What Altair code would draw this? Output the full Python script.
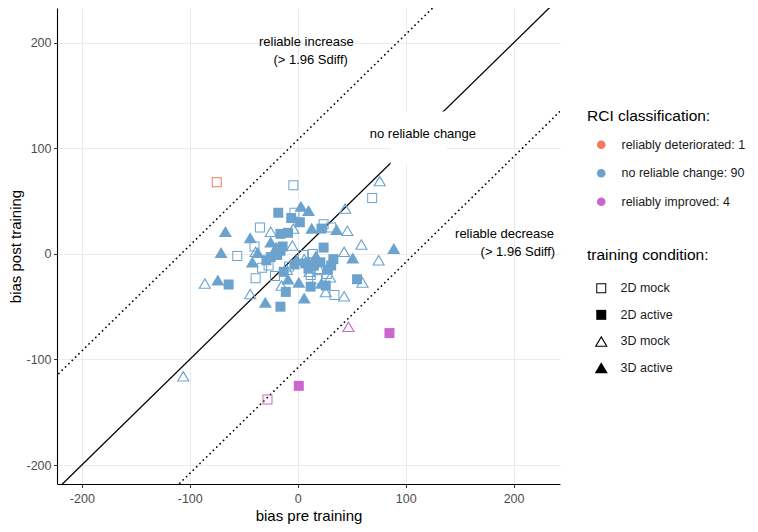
import altair as alt
import pandas as pd

FONT = "Liberation Sans"

conditions = ["2D mock", "2D active", "3D mock", "3D active"]
rci_labels = ["reliably deteriorated: 1", "no reliable change: 90", "reliably improved: 4"]
rci_colors = ["#F4795E", "#6BA3CE", "#CC66CC"]

# no reliable change points, per training condition
nrc_2d_mock_pre = [-4, -3, -35, 24, 31, -40, -56, -33, -27, 14, -39, -21, 12, 18, 27, 34, 69, 11, -8, 5]
nrc_2d_mock_post = [65, 39, 25, 28, 25, 7, -2, -13, -11, 0, -23, -21, -20, -24, -19, -39, 53, -8, -12, -1]

nrc_2d_active_pre = [-18, -6, 2, -16, -9, 22, -14, -16, -19, -25, -29, 24, 7, 15, 21, 33, 31, -13, 12, 26,
                     -11, -16, -64, 55, 10, -3, 28]
nrc_2d_active_post = [39, 34, 30, 19, 20, 24, 7, 3, -1, -3, -6, 6, -9, -11, -8, -5, -11, -17, -31, -30,
                      -36, -50, -29, -24, -14, -10, -15]

nrc_3d_mock_pre = [-25, -4, -5, -39, 6, -15, 26, -44, -86, 11, 76, 44, 46, 59, 43, 75, 60, 43, -106, 20, 30, -10]
nrc_3d_mock_post = [21, 24, 8, 2, -5, -30, -36, -38, -28, -17, 69, 43, 22, 9, 2, -6, -27, -40, -116, -14, -22, -15]

nrc_3d_active_pre = [3, 10, -67, -44, 13, 36, -25, -37, -71, -42, -1, -9, 1, -30, 6, -74, 51, 89, 17, -20, 22]
nrc_3d_active_post = [45, 41, 21, 15, 24, 23, 11, 1, 1, -8, -6, -24, -27, -46, -42, -25, -4, 5, -2, 6, -28]

# reliably deteriorated
det_pre = [-75]
det_post = [68]
det_cond = ["2D mock"]

# reliably improved
imp_pre = [47, 85, 1, -28]
imp_post = [-69, -75, -125, -138]
imp_cond = ["3D mock", "2D active", "2D active", "2D mock"]

# reference lines: identity and +/- 1.96 Sdiff
line_x = [-240, 260]
line_offsets = [108, -108]

# rectangle behind the "no reliable change" label
label_box_x = [86, 138]
label_box_y = [85, 135]

rows = []
for pre, post, cond in [
    (nrc_2d_mock_pre, nrc_2d_mock_post, "2D mock"),
    (nrc_2d_active_pre, nrc_2d_active_post, "2D active"),
    (nrc_3d_mock_pre, nrc_3d_mock_post, "3D mock"),
    (nrc_3d_active_pre, nrc_3d_active_post, "3D active"),
]:
    for a, b in zip(pre, post):
        rows.append({"pre": a, "post": b, "cond": cond, "rci": rci_labels[1]})
for a, b, c in zip(det_pre, det_post, det_cond):
    rows.append({"pre": a, "post": b, "cond": c, "rci": rci_labels[0]})
for a, b, c in zip(imp_pre, imp_post, imp_cond):
    rows.append({"pre": a, "post": b, "cond": c, "rci": rci_labels[2]})
pts = pd.DataFrame(rows)

solid_df = pd.DataFrame({"pre": line_x, "post": line_x})
dot_rows = []
for i, off in enumerate(line_offsets):
    for xv in line_x:
        dot_rows.append({"pre": xv, "post": xv + off, "id": i})
dot_df = pd.DataFrame(dot_rows)

box_df = pd.DataFrame({"x1": [label_box_x[0]], "x2": [label_box_x[1]],
                       "y1": [label_box_y[0]], "y2": [label_box_y[1]]})

text_df = pd.DataFrame({
    "pre": [8, 12, 116],
    "post": [201, 184, 114],
    "label": ["reliable increase", "(> 1.96 Sdiff)", "no reliable change"],
})
text_r_df = pd.DataFrame({
    "pre": [237.5, 238.5],
    "post": [19, 2],
    "label": ["reliable decrease", "(> 1.96 Sdiff)"],
})

sq_filled = "M-1,-1H1V1H-1Z"
sq_open = "M-1,-1H1V1H-1Z M-0.8,-0.8V0.8H0.8V-0.8Z"
tri_filled = "M0,-1.15L1.3,1.05H-1.3Z"
tri_open = "M0,-1.15L1.3,1.05H-1.3Z M0,-0.68L-0.92,0.85H0.92Z"
shape_paths = [sq_open, sq_filled, tri_open, tri_filled]

xscale = alt.Scale(domain=[-223, 243], nice=False, zero=False)
yscale = alt.Scale(domain=[-218, 233], nice=False, zero=False)
ticks = [-200, -100, 0, 100, 200]

xenc = alt.X("pre:Q", scale=xscale,
             axis=alt.Axis(values=ticks, title="bias pre training", labelExpr="'' + datum.value"))
yenc = alt.Y("post:Q", scale=yscale,
             axis=alt.Axis(values=ticks, title="bias post training", labelExpr="'' + datum.value"))

dotted = alt.Chart(dot_df).mark_line(
    clip=True, color="black", strokeWidth=1.7, strokeDash=[0.1, 4.6], strokeCap="round"
).encode(x=xenc, y=yenc, detail="id:N")

solid = alt.Chart(solid_df).mark_line(clip=True, color="black", strokeWidth=1.3).encode(x=xenc, y=yenc)

box = alt.Chart(box_df).mark_rect(color="white").encode(
    x=alt.X("x1:Q", scale=xscale), x2="x2:Q",
    y=alt.Y("y1:Q", scale=yscale), y2="y2:Q")

texts = alt.Chart(text_df).mark_text(
    font=FONT, fontSize=13, color="black", align="center", baseline="middle"
).encode(x=xenc, y=yenc, text="label:N")

texts_r = alt.Chart(text_r_df).mark_text(
    font=FONT, fontSize=13, color="black", align="right", baseline="middle"
).encode(x=xenc, y=yenc, text="label:N")

points = alt.Chart(pts).mark_point(filled=True, opacity=1, size=100, strokeWidth=0).encode(
    x=xenc, y=yenc,
    color=alt.Color("rci:N", scale=alt.Scale(domain=rci_labels, range=rci_colors),
                    legend=alt.Legend(title="RCI classification:", orient="none",
                                      legendX=530, legendY=101, symbolType="circle",
                                      symbolSize=75, symbolOffset=8, labelOffset=14,
                                      rowPadding=15.5, titlePadding=14, padding=0,
                                      symbolStrokeWidth=0)),
    shape=alt.Shape("cond:N", scale=alt.Scale(domain=conditions, range=shape_paths),
                    legend=alt.Legend(title="training condition:", orient="none",
                                      legendX=530, legendY=240, symbolSize=100,
                                      symbolFillColor="black", symbolStrokeWidth=0,
                                      symbolOffset=8, labelOffset=13,
                                      rowPadding=13.6, titlePadding=18.5, padding=0)),
)

chart = alt.layer(dotted, solid, box, texts, texts_r, points).properties(
    width=503, height=476,
    padding={"left": 49, "top": 0, "right": 190, "bottom": 40},
    autosize=alt.AutoSizeParams(type="none"),
    background="white",
).configure_view(strokeWidth=0).configure_axis(
    domainColor="black", domainWidth=1.1,
    tickColor="#333333", tickSize=3.5, tickWidth=1,
    labelColor="#4D4D4D", labelFont=FONT, labelFontSize=12.5,
    titleFont=FONT, titleFontSize=15, titleFontWeight="normal", titleColor="black",
    gridColor="#EBEBEB", gridWidth=1,
).configure_axisX(titlePadding=3, labelPadding=5).configure_axisY(
    titlePadding=2, labelPadding=2.5
).configure_legend(
    titleFont=FONT, titleFontSize=15.5, titleFontWeight="normal", titleColor="black",
    labelFont=FONT, labelFontSize=12.5, labelColor="#1A1A1A",
)

chart.save("out.html", embed_options={"renderer": "svg", "actions": False})
